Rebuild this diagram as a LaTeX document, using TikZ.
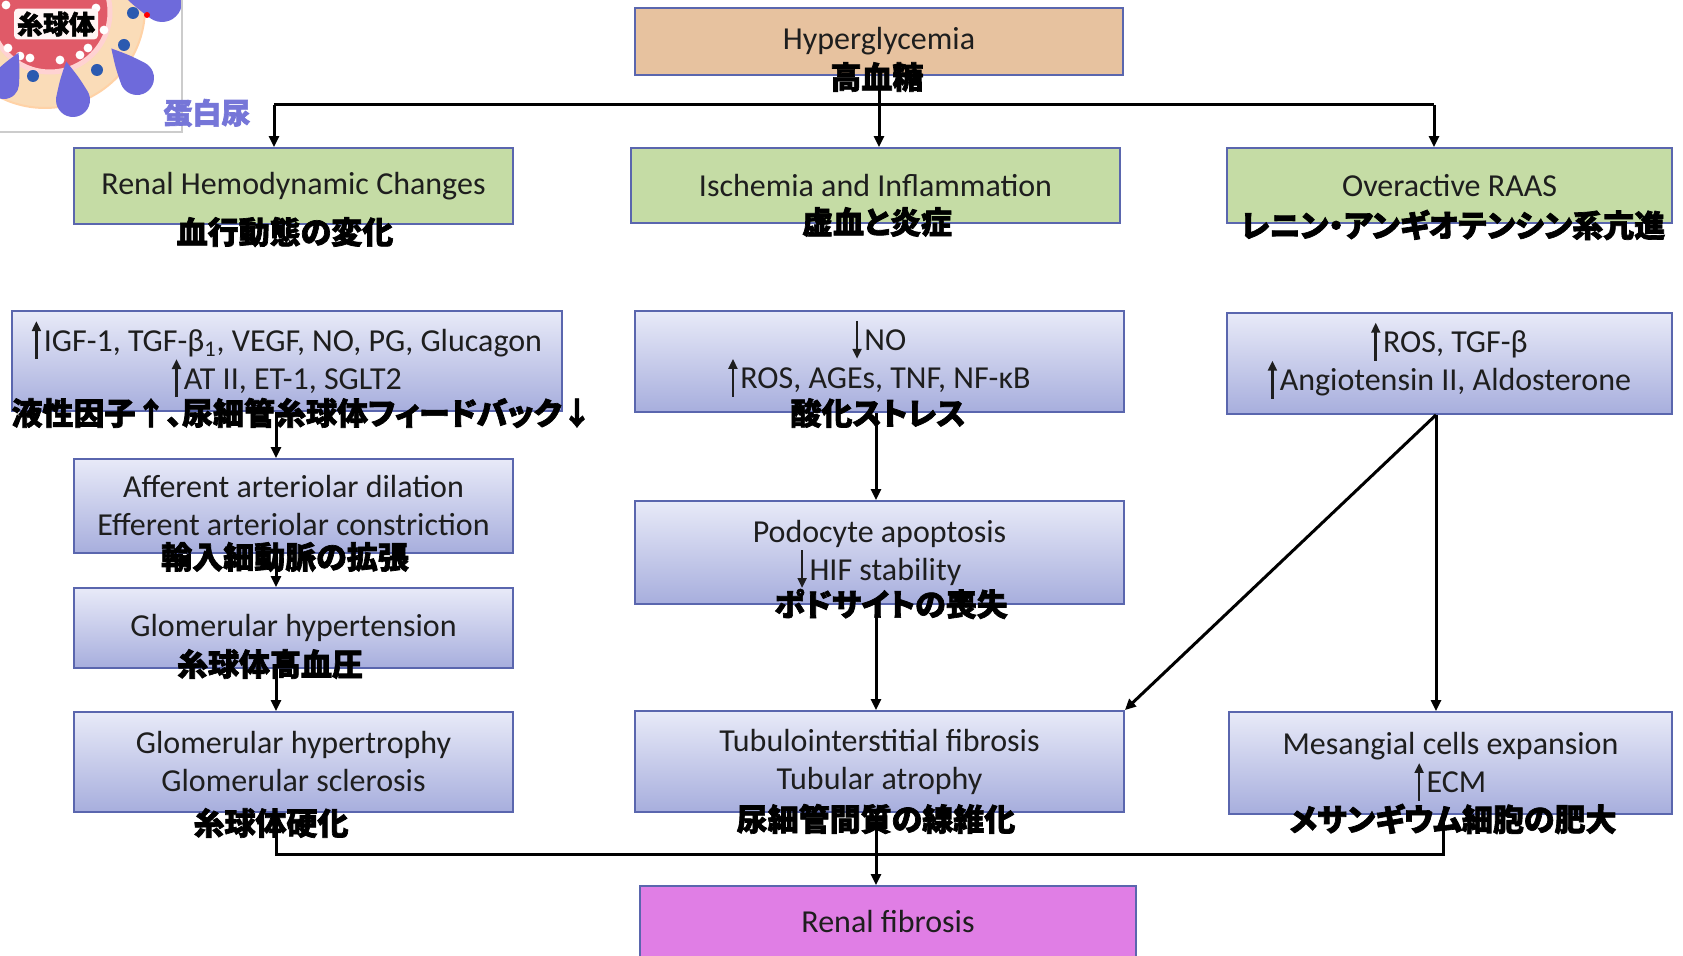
\documentclass[tikz,border=0pt]{standalone}
\usepackage{fontspec}
\setmainfont{Carlito}
\newfontfamily\jpfont{Noto Sans CJK JP}[RawFeature=+palt, BoldFeatures={FakeBold=2.2}]
\usetikzlibrary{arrows.meta}

\definecolor{edge}{HTML}{5A66AE}
\definecolor{peach}{HTML}{E7C29F}
\definecolor{leaf}{HTML}{C5DCA5}
\definecolor{blueT}{HTML}{E8EAF8}
\definecolor{blueB}{HTML}{A7AEDD}
\definecolor{magenta}{HTML}{E07EE5}
\definecolor{txt}{HTML}{1E1E1E}
\definecolor{violet}{HTML}{6E6ADB}
\definecolor{navy}{HTML}{2B5AB0}
\definecolor{skin}{HTML}{FADCB8}
\definecolor{redcore}{HTML}{E05A68}
\definecolor{protein}{HTML}{7676D8}

% tall thin arrows used inside the box texts (smashed so they keep the line spacing)
\newcommand\UpA{\smash{\tikz[baseline=0pt]\draw[line width=1.3pt,-{Triangle[length=5pt,width=4.4pt]}] (0pt,-4pt) -- (0pt,15pt);}\hspace{1.5pt}}
\newcommand\DnA{\smash{\tikz[baseline=0pt]\draw[line width=1.3pt,-{Triangle[length=5pt,width=4.4pt]}] (0pt,15pt) -- (0pt,-4pt);}\hspace{1.5pt}}

% box given by its corners in pixel units: style, name, x1, y1, x2, y2, text
\newcommand\bx[7]{\node[#1, minimum width={(#5-#3)*0.5pt}, minimum height={(#6-#4)*0.5pt}]
  (#2) at ({(#3+#5)/2},{(#4+#6)/2}) {#7};}

% teardrop: round end at (#1,#2), radius #3 pt, tip pointing at angle #4
\newcommand\drop[4]{%
  \begin{scope}[shift={(#1,#2)},rotate=#4]
    \fill[violet] (70:#3pt) arc[start angle=70,end angle=290,radius=#3pt]
      .. controls ({1.3*#3*1pt},{-0.55*#3*1pt}) .. ({2.3*#3*1pt},0pt)
      .. controls ({1.3*#3*1pt},{0.55*#3*1pt}) .. (70:#3pt) -- cycle;
  \end{scope}}

\begin{document}
\begin{tikzpicture}[x=0.5pt,y=-0.5pt,
  box/.style={draw=edge, line width=0.9pt, inner sep=0pt, align=center,
    text=txt, font=\fontsize{16}{19}\selectfont},
  bluebox/.style={box, top color=blueT, bottom color=blueB},
  jp/.style={inner sep=0pt, text=black,
    font=\jpfont\bfseries\fontsize{15.5}{18}\selectfont},
  ln/.style={line width=1.5pt},
  arr/.style={line width=1.5pt, -{Triangle[length=5.5pt,width=5pt]}}]

\useasboundingbox (0,0) rectangle (1683,956);
\clip (0,0) rectangle (1683,956);
\fill[white] (0,0) rectangle (1683,956);

% ---- glomerulus illustration ----
\begin{scope}
  \clip (0,0) rectangle (182,132);
  \fill[white] (0,0) rectangle (182,132);
  \fill[skin] (45,8) circle[radius=50pt];
  \draw[orange!35, line width=1pt] (45,8) circle[radius=50pt];
  \fill[redcore] (50,12) circle[radius=30pt];
  \draw[pink!70, line width=2.5pt] (50,12) circle[radius=30pt];
  \foreach \p in {(8,48),(30,58),(60,60),(88,48),(104,30),(96,8),(6,5),(80,55),(20,56)}
    \fill[white] \p circle[radius=2.2pt];
  \drop{73}{100}{8.5}{100}
  \drop{137}{78}{8.5}{131}
  \drop{162}{2}{10}{165}
  \drop{4}{84}{7.5}{65}
  \foreach \p in {(33,76),(97,70),(124,45),(133,13)}
    \fill[navy] \p circle[radius=3pt];
  \fill[red] (147,15) circle[radius=1.5pt];
  \node[fill=white!85!pink, rounded corners=2pt, inner sep=1.5pt,
        font=\jpfont\bfseries\fontsize{13}{15}\selectfont] (glom) at (56,24) {糸球体};
\end{scope}
\draw[gray!40, line width=0.8pt] (182,0) -- (182,132) -- (0,132);
\node[jp, text=protein, font=\jpfont\bfseries\fontsize{14.5}{17}\selectfont] (prot) at (207,113) {蛋白尿};

% ---- boxes ----
\bx{box, fill=peach}{hyp}{635}{8}{1123}{75}{Hyperglycemia}

\bx{box, fill=leaf}{ren}{74}{148}{513}{224}{Renal Hemodynamic Changes}
\bx{box, fill=leaf}{isch}{631}{148}{1120}{223}{Ischemia and Inflammation}
\bx{box, fill=leaf}{raas}{1227}{148}{1672}{223}{Overactive RAAS}

\bx{bluebox}{fac}{12}{311}{562}{411}
  {\UpA IGF-1, TGF-β\textsubscript{1}, VEGF, NO, PG, Glucagon\\ \UpA AT II, ET-1, SGLT2}
\bx{bluebox}{ox}{635}{311}{1124}{412}
  {\DnA NO\\ \UpA ROS, AGEs, TNF, NF-κB}
\bx{bluebox}{ras}{1227}{313}{1672}{414}
  {\UpA ROS, TGF-β\\ \UpA Angiotensin II, Aldosterone}

\bx{bluebox}{aff}{74}{459}{513}{553}
  {Afferent arteriolar dilation\\ Efferent arteriolar constriction}
\bx{bluebox}{gh}{74}{588}{513}{668}{Glomerular hypertension}
\bx{bluebox}{gs}{74}{712}{513}{812}
  {Glomerular hypertrophy\\ Glomerular sclerosis}

\bx{bluebox}{pod}{635}{501}{1124}{604}
  {Podocyte apoptosis\\ \DnA HIF stability}
\bx{bluebox}{tub}{635}{711}{1124}{812}
  {Tubulointerstitial fibrosis\\ Tubular atrophy}
\bx{bluebox}{mes}{1229}{712}{1672}{814}
  {Mesangial cells expansion\\ \UpA ECM}

\bx{box, fill=magenta}{fib}{640}{886}{1136}{958}{Renal fibrosis}

% ---- connectors ----
\coordinate (tl) at (274,105);
\coordinate (tr) at (1434,105);
\coordinate (lc) at (276,0);
\coordinate (mc) at (876,0);
\coordinate (rc) at (1436,0);
\coordinate (bl) at (276,855);
\coordinate (br) at (1443,855);

\draw[ln] (tl) -- (tr);
\draw[arr] (hyp.south) -- (hyp.south |- isch.north);
\draw[arr] (tl) -- (tl |- ren.north);
\draw[arr] (tr) -- (tr |- raas.north);

\draw[arr] (lc |- fac.south) -- (lc |- aff.north);
\draw[arr] (lc |- aff.south) -- (lc |- gh.north);
\draw[arr] (lc |- gh.south) -- (lc |- gs.north);

\draw[arr] (mc |- ox.south) -- (mc |- pod.north);
\draw[arr] (mc |- pod.south) -- (mc |- tub.north);

\draw[arr] (rc |- ras.south) -- (rc |- mes.north);
\draw[arr] (rc |- ras.south) -- (tub.north east);

\draw[ln] (lc |- gs.south) -- (bl) -- (br) -- (br |- mes.south);
\draw[arr] (mc |- tub.south) -- (mc |- fib.north);

% ---- Japanese captions ----
\node[jp] (jhyp) at (877,77) {高血糖};
\node[jp] (jren) at (285,232) {血行動態の変化};
\node[jp] (jisch) at (877,222) {虚血と炎症};
\node[jp] (jraas) at (1453,225) {レニン・アンギオテンシン系亢進};
\node[jp] (jfac) at (302,413) {液性因子↑、尿細管糸球体フィードバック↓};
\node[jp] (jox) at (878,413) {酸化ストレス};
\node[jp] (jaff) at (285,557) {輸入細動脈の拡張};
\node[jp] (jgh) at (270,664) {糸球体高血圧};
\node[jp] (jgs) at (271,823) {糸球体硬化};
\node[jp] (jpod) at (891,604) {ポドサイトの喪失};
\node[jp] (jtub) at (876,819) {尿細管間質の線維化};
\node[jp] (jmes) at (1453,819) {メサンギウム細胞の肥大};
\end{tikzpicture}
\end{document}
